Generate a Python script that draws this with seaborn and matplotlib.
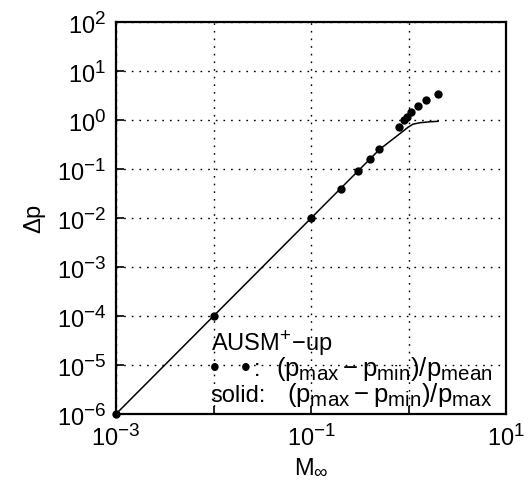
import matplotlib
matplotlib.use("Agg")
import matplotlib.pyplot as plt
import matplotlib._mathtext as _mt
import numpy as np
import pandas as pd
import seaborn as sns

# ---- data ----
mach_pts = [0.001, 0.01, 0.1, 0.2, 0.3, 0.4, 0.5, 0.8, 0.9, 0.95, 1.05, 1.25, 1.5, 2.0]
dp_mean = [1e-6, 1e-4, 1e-2, 0.039, 0.09, 0.16, 0.25, 0.71, 1.0, 1.13, 1.45, 1.95, 2.55, 3.44]
mach_line = [0.001, 0.01, 0.1, 0.3, 0.5, 0.7, 0.9, 0.98, 1.1, 1.3, 1.65, 2.0]
dp_max = [1e-6, 1e-4, 1e-2, 0.09, 0.25, 0.42, 0.62, 0.71, 0.82, 0.88, 0.92, 0.94]
x_ticks = [1e-3, 1e-2, 1e-1, 1e0, 1e1]
x_ticklabels = [r"$10^{-3}$", "", r"$10^{-1}$", "", r"$10^{1}$"]
y_ticks = [1e-6, 1e-5, 1e-4, 1e-3, 1e-2, 1e-1, 1e0, 1e1, 1e2]
y_ticklabels = [r"$10^{-6}$", r"$10^{-5}$", r"$10^{-4}$", r"$10^{-3}$", r"$10^{-2}$",
                r"$10^{-1}$", r"$10^{0}$", r"$10^{1}$", r"$10^{2}$"]

# larger sub/superscripts, as in the reference
_mt.SHRINK_FACTOR = 0.8

sns.set_theme(style="white")
plt.rcParams["font.family"] = ["Liberation Sans", "DejaVu Sans"]
plt.rcParams["mathtext.fontset"] = "custom"
plt.rcParams["mathtext.rm"] = "Liberation Sans"
plt.rcParams["mathtext.it"] = "Liberation Sans"
plt.rcParams["mathtext.bf"] = "Liberation Sans:bold"

df_pts = pd.DataFrame({"M": mach_pts, "dp": dp_mean})
df_line = pd.DataFrame({"M": mach_line, "dp": dp_max})

fig = plt.figure(figsize=(5.32, 4.85), dpi=100)
ax = fig.add_axes([0.218, 0.1443, 0.734, 0.8083])

sns.lineplot(data=df_line, x="M", y="dp", ax=ax, color="black", linewidth=1.1,
             estimator=None, sort=False)
sns.scatterplot(data=df_pts, x="M", y="dp", ax=ax, color="black", s=36,
                edgecolor="black", linewidth=0, clip_on=False, zorder=5)

ax.set_xscale("log")
ax.set_yscale("log")
ax.set_xlim(1e-3, 1e1)
ax.set_ylim(1e-6, 1e2)
ax.set_xticks(x_ticks)
ax.set_xticklabels(x_ticklabels)
ax.set_yticks(y_ticks)
ax.set_yticklabels(y_ticklabels)
ax.minorticks_off()

ax.grid(True, which="major", color="black", linestyle=(0, (1.2, 4.3)), linewidth=1.0)
ax.tick_params(axis="both", direction="in", length=6, width=1.2, colors="black",
               labelsize=17, pad=7, left=True, bottom=True, top=False, right=False)
for s in ax.spines.values():
    s.set_color("black")
    s.set_linewidth(1.6)

ax.set_xlabel(r"$M_{\infty}$", fontsize=17, color="black", labelpad=4)
ax.set_ylabel(r"$\Delta$p", fontsize=17, color="black", labelpad=6)

fs = 17
ffs = 18.5
ax.text(0.243, 0.164, "AUSM$^{+}$\u2212up", transform=ax.transAxes, fontsize=fs,
        ha="left", va="baseline", color="black")
ax.text(0.2534, 0.0995, "\u2022", transform=ax.transAxes, fontsize=20,
        ha="center", va="baseline", color="black")
ax.text(0.3327, 0.0995, "\u2022", transform=ax.transAxes, fontsize=20,
        ha="center", va="baseline", color="black")
ax.text(0.352, 0.0995, ":", transform=ax.transAxes, fontsize=fs,
        ha="left", va="baseline", color="black")
ax.text(0.410, 0.0995, r"$(p_{max}-p_{min})/p_{mean}$", transform=ax.transAxes,
        fontsize=ffs, ha="left", va="baseline", color="black")
ax.text(0.243, 0.034, "solid:", transform=ax.transAxes,
        fontsize=fs, ha="left", va="baseline", color="black")
ax.text(0.438, 0.034, r"$(p_{max}-p_{min})/p_{max}$", transform=ax.transAxes,
        fontsize=ffs, ha="left", va="baseline", color="black")

fig.savefig("out.png", dpi=100)
